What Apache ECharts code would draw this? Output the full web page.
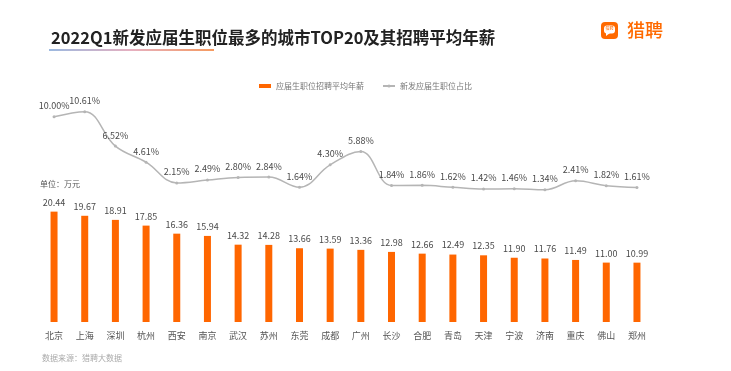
<!DOCTYPE html>
<html>
<head>
<meta charset="utf-8">
<script src="https://cdn.jsdelivr.net/npm/echarts@6/dist/echarts.min.js"></script>
<style>
html,body{margin:0;padding:0;background:#fff;}
#main{width:731px;height:371px;}
</style>
</head>
<body>
<div id="main"></div>
<script>
const cities = ['北京','上海','深圳','杭州','西安','南京','武汉','苏州','东莞','成都','广州','长沙','合肥','青岛','天津','宁波','济南','重庆','佛山','郑州'];
const salary = [20.44,19.67,18.91,17.85,16.36,15.94,14.32,14.28,13.66,13.59,13.36,12.98,12.66,12.49,12.35,11.90,11.76,11.49,11.00,10.99];
const share = [10.00,10.61,6.52,4.61,2.15,2.49,2.80,2.84,1.64,4.30,5.88,1.84,1.86,1.62,1.42,1.46,1.34,2.41,1.82,1.61];

const FONT = '"Noto Sans CJK SC","Noto Sans",sans-serif';
const chart = echarts.init(document.getElementById('main'));
chart.setOption({
  backgroundColor:'#fff',
  animation:false,
  textStyle:{fontFamily:FONT},
  title:{
    text:'2022Q1新发应届生职位最多的城市TOP20及其招聘平均年薪',
    left:46, top:24,
    textStyle:{fontSize:16.5,fontWeight:'bold',color:'#222',fontFamily:FONT}
  },
  legend:{
    top:77, left:'center',
    itemWidth:12, itemHeight:4, itemGap:18,
    textStyle:{fontSize:8,color:'#777',fontFamily:FONT},
    data:[
      {name:'应届生职位招聘平均年薪',icon:'rect'},
      {name:'新发应届生职位占比'}
    ]
  },
  graphic:[
    {type:'rect',left:49,top:49,shape:{width:165,height:2},
     style:{fill:new echarts.graphic.LinearGradient(0,0,1,0,[
       {offset:0,color:'#9cb9e0'},{offset:0.5,color:'#e6b0c0'},{offset:1,color:'#f59a60'}])}},
    {type:'rect',left:601,top:22,shape:{width:17,height:17,r:4},style:{fill:'#ff6a00'}},
    {type:'rect',left:604,top:25.5,shape:{width:11,height:8,r:3},style:{fill:'#fff'}},
    {type:'polygon',shape:{points:[[606,32],[606,36],[610,33]]},style:{fill:'#fff'}},
    {type:'text',left:605.5,top:26.5,style:{text:'猎聘',fontSize:4,fill:'#ff6a00',fontFamily:FONT}},
    {type:'text',left:627,top:21,style:{text:'猎聘',fontSize:18,fontWeight:500,fill:'#ff6a00',fontFamily:FONT}},
    {type:'text',left:40,top:180,style:{text:'单位：万元',fontSize:8,fill:'#555',fontFamily:FONT}},
    {type:'text',left:42,top:354,style:{text:'数据来源：猎聘大数据',fontSize:8,fill:'#aaa',fontFamily:FONT}}
  ],
  grid:[
    {left:38.7,right:78.7,top:100,bottom:170},
    {left:38.7,right:78.7,top:203.2,bottom:49}
  ],
  xAxis:[
    {type:'category',gridIndex:0,data:cities,show:false,boundaryGap:true},
    {type:'category',gridIndex:1,data:cities,boundaryGap:true,
     axisLine:{show:false},axisTick:{show:false},
     axisLabel:{fontSize:9,color:'#555',margin:9,interval:0,fontFamily:FONT}}
  ],
  yAxis:[
    {type:'value',gridIndex:0,min:0,max:12,show:false},
    {type:'value',gridIndex:1,min:0,max:22,show:false}
  ],
  series:[
    {name:'应届生职位招聘平均年薪',type:'bar',xAxisIndex:1,yAxisIndex:1,data:salary,
     barWidth:7,itemStyle:{color:'#ff6600'},
     label:{show:true,position:'top',distance:5,fontSize:9,color:'#4a4a4a',fontFamily:FONT,
       formatter:p=>p.value.toFixed(2)}},
    {name:'新发应届生职位占比',type:'line',xAxisIndex:0,yAxisIndex:0,data:share,
     smooth:0.4,symbol:'circle',symbolSize:3,
     lineStyle:{color:'#b5b5b5',width:1.5},itemStyle:{color:'#b5b5b5'},
     label:{show:true,position:'top',distance:5,fontSize:9,color:'#4a4a4a',fontFamily:FONT,
       formatter:p=>p.value.toFixed(2)+'%'}}
  ]
});
</script>
</body>
</html>
